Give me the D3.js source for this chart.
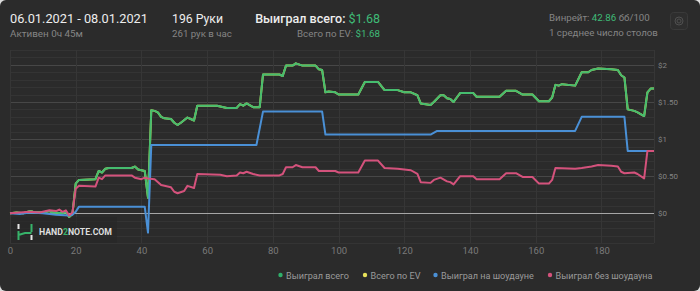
<!DOCTYPE html>
<html><head><meta charset="utf-8">
<script src="https://cdn.jsdelivr.net/npm/d3@7/dist/d3.min.js"></script>
<style>
body{margin:0;background:#dcdcdc;}
svg{display:block;font-family:Roboto,"Noto Sans",sans-serif;}
</style>
</head><body>
<svg id="chart" width="700" height="291"></svg>
<script>
// ---- data ----
const seriesNames = ["Выиграл всего", "Всего по EV", "Выиграл на шоудауне", "Выиграл без шоудауна"];
const seriesColors = ["#45bd6f", "#e2d94c", "#4a90d6", "#d4527c"];
const legendDotColors = ["#2fae6a", "#e8e25a", "#4a90d6", "#d4527c"];

// [hand, dollars]
const totalWon = [[0,0],[2,0.01],[4,0],[6,0.03],[7,0.02],[10,0.01],[12,0.03],[13,0.01],[16,0],[17,0.02],[18,-0.05],[19,-0.01],[20,0.40],[21,0.45],[26,0.46],[27,0.57],[28,0.55],[29,0.60],[30,0.61],[37,0.61],[38,0.63],[39,0.59],[41,0.57],[42,0.21],[43,1.39],[44,1.38],[45,1.36],[46,1.30],[47,1.28],[49,1.27],[50,1.22],[51,1.19],[52,1.22],[54,1.29],[55,1.27],[56,1.25],[57,1.45],[63,1.45],[66,1.42],[69,1.42],[70,1.47],[71,1.45],[72,1.48],[74,1.43],[76,1.43],[77,1.87],[82,1.87],[83,1.85],[84,1.99],[86,1.99],[87,2.02],[89,1.99],[93,1.99],[94,1.94],[95,1.93],[96,1.63],[97,1.64],[99,1.63],[100,1.60],[106,1.60],[108,1.77],[112,1.77],[114,1.66],[118,1.66],[120,1.63],[122,1.63],[124,1.59],[125,1.48],[128,1.46],[129,1.50],[131,1.59],[132,1.59],[133,1.55],[134,1.54],[135,1.50],[136,1.56],[137,1.62],[141,1.62],[142,1.57],[149,1.57],[151,1.65],[154,1.65],[156,1.60],[159,1.60],[161,1.51],[164,1.51],[165,1.56],[166,1.73],[167,1.72],[168,1.74],[172,1.72],[174,1.90],[176,1.90],[177,1.93],[179,1.95],[183,1.94],[185,1.93],[186,1.86],[187,1.83],[188,1.40],[190,1.38],[191,1.36],[193,1.31],[194,1.63],[195,1.68],[196,1.68]];
const evWon = totalWon; // all-in EV line coincides with the total line
const showdownWon = [[0,0],[3,-0.01],[6,0.01],[10,0],[14,-0.02],[18,-0.03],[19,-0.02],[20,0.02],[21,0.09],[41,0.09],[42,-0.26],[43,0.92],[75,0.92],[77,1.37],[95,1.37],[96,1.06],[128,1.06],[130,1.11],[172,1.11],[174,1.30],[187,1.30],[188,0.84],[196,0.84]];
const nonShowdownWon = [[0,0],[3,0.01],[6,0.02],[9,0.01],[12,0.04],[14,0.03],[15,0.05],[16,0.02],[17,0.04],[18,-0.03],[19,0.01],[20,0.33],[21,0.37],[26,0.36],[27,0.48],[28,0.46],[29,0.51],[37,0.51],[38,0.48],[40,0.46],[41,0.48],[42,0.47],[44,0.46],[46,0.38],[49,0.35],[50,0.29],[51,0.27],[53,0.30],[54,0.37],[56,0.34],[57,0.53],[64,0.52],[66,0.50],[69,0.51],[70,0.55],[71,0.54],[72,0.56],[74,0.53],[76,0.51],[82,0.51],[83,0.53],[84,0.62],[86,0.62],[87,0.65],[89,0.62],[93,0.62],[94,0.57],[99,0.57],[100,0.55],[106,0.55],[108,0.71],[112,0.71],[114,0.61],[118,0.60],[122,0.58],[124,0.53],[125,0.42],[128,0.41],[129,0.45],[131,0.48],[133,0.43],[134,0.42],[135,0.39],[137,0.50],[141,0.50],[142,0.46],[149,0.46],[151,0.54],[154,0.54],[156,0.49],[159,0.49],[161,0.40],[164,0.40],[165,0.45],[166,0.61],[172,0.60],[174,0.61],[177,0.63],[179,0.65],[183,0.64],[185,0.63],[186,0.56],[187,0.54],[190,0.55],[191,0.53],[193,0.47],[194,0.84],[196,0.84]];

const xTicks = [0,20,40,60,80,100,120,140,160,180];
const yTickValues = [0, 0.5, 1, 1.5, 2];
const yTickLabels = ["$0", "$0.50", "$1", "$1.50", "$2"];

// ---- helpers ----
function fit(sel, w) {
  const cur = sel.node().getComputedTextLength();
  const fs = parseFloat(sel.attr("font-size"));
  if (cur > 0) sel.attr("font-size", (fs * w / cur).toFixed(2));
  return sel;
}

// ---- drawing ----
const W = 700, H = 291;
const svg = d3.select("#chart");
svg.append("rect").attr("width", W).attr("height", H).attr("rx", 6).attr("fill", "#2b2b2b");

const x = d3.scaleLinear().domain([0, 196]).range([10, 654]);
const y = d3.scaleLinear().domain([-0.4, 2.2]).range([243, 50]);

// grid
const g = svg.append("g");
const minor = d3.range(-4, 23).map(i => i / 10);
g.selectAll("line.minor").data(minor).join("line")
  .attr("x1", x(0)).attr("x2", x(196))
  .attr("y1", d => Math.round(y(d)) + 0.5).attr("y2", d => Math.round(y(d)) + 0.5)
  .attr("stroke", d => (Math.abs(Math.round(d * 2) - d * 2) < 1e-9 ? "#474747" : "#343434"));
g.selectAll("line.v").data(xTicks.concat([196])).join("line")
  .attr("y1", y(-0.4)).attr("y2", y(2.2))
  .attr("x1", d => Math.round(x(d)) + 0.5).attr("x2", d => Math.round(x(d)) + 0.5)
  .attr("stroke", "#363636");
g.append("line").attr("x1", x(0)).attr("x2", x(196))
  .attr("y1", Math.round(y(0)) + 0.5).attr("y2", Math.round(y(0)) + 0.5)
  .attr("stroke", "#a6a6a6").attr("stroke-width", 1.2);

// axes labels
const xAxis = d3.axisBottom(x).tickValues(xTicks).tickSize(0).tickPadding(0);
const xa = svg.append("g").attr("transform", "translate(0,247.5)").call(xAxis);
xa.select(".domain").remove();
xa.selectAll("text").attr("fill", "#7a7a7a").attr("font-size", 9.5).attr("font-family", "Roboto").attr("dy", "0.71em");

const yAxis = d3.axisRight(y).tickValues(yTickValues).tickFormat((d, i) => yTickLabels[i]).tickSize(0).tickPadding(0);
const ya = svg.append("g").attr("transform", "translate(658,0)").call(yAxis);
ya.select(".domain").remove();
ya.selectAll("text").attr("fill", "#858585").attr("font-size", 10).attr("font-family", "Roboto");
const y150 = ya.selectAll("text").filter((d, i) => i === 3);
const y150w = y150.node().getComputedTextLength();
ya.selectAll("text").attr("font-size", (10 * 20 / y150w).toFixed(2));

// watermark
const wm = svg.append("g");
wm.append("rect").attr("x", 11).attr("y", 217).attr("width", 106).attr("height", 26).attr("fill", "#262626").attr("opacity", 0.6);
wm.append("path").attr("d", "M18.5,224 V229").attr("stroke", "#e6e6e6").attr("stroke-width", 2);
wm.append("path").attr("d", "M18.5,231 V240 M18.5,235 L25,233 L31.5,233 M31.5,224 V232").attr("stroke", "#37b36a").attr("stroke-width", 2).attr("fill", "none");
wm.append("path").attr("d", "M31.5,235 V240").attr("stroke", "#e6e6e6").attr("stroke-width", 2);
const wt = wm.append("text").attr("x", 39).attr("y", 235).attr("font-size", 9.5).attr("font-weight", "bold").attr("fill", "#dedede").attr("font-family", "Roboto");
wt.append("tspan").text("HAND");
wt.append("tspan").attr("fill", "#37b36a").text("2");
wt.append("tspan").text("NOTE.COM");
fit(wt, 73);

// lines
const line = d3.line().x(d => x(d[0])).y(d => y(d[1]));
const allSeries = [evWon, totalWon, showdownWon, nonShowdownWon];
const colorIdx = [1, 0, 2, 3];
const lg = svg.append("g").attr("fill", "none").attr("stroke-width", 2).attr("stroke-linejoin", "round");
allSeries.forEach((s, i) => {
  lg.append("path").attr("d", line(s)).attr("stroke", seriesColors[colorIdx[i]]);
});

// legend
const legendX = [280.5, 365, 435.5, 550];
const legendW = [63, 50, 93, 97];
const leg = svg.append("g");
seriesNames.forEach((n, i) => {
  leg.append("circle").attr("cx", legendX[i]).attr("cy", 275).attr("r", 2.2).attr("fill", legendDotColors[i]);
  const t = leg.append("text").attr("x", legendX[i] + 5.5).attr("y", 278.5).attr("font-size", 10).attr("fill", "#9a9a9a").text(n);
  fit(t, legendW[i]);
});

// header
const hd = svg.append("g").attr("font-family", "Roboto");
fit(hd.append("text").attr("x", 10).attr("y", 23).attr("font-size", 14).attr("fill", "#ededed").text("06.01.2021 - 08.01.2021"), 138);
fit(hd.append("text").attr("x", 10).attr("y", 37).attr("font-size", 11).attr("fill", "#858585").text("Активен 0ч 45м"), 73);
fit(hd.append("text").attr("x", 172).attr("y", 23).attr("font-size", 14).attr("fill", "#ededed").text("196 Руки"), 51);
fit(hd.append("text").attr("x", 172).attr("y", 37).attr("font-size", 11).attr("fill", "#858585").text("261 рук в час"), 60);
const t1 = hd.append("text").attr("x", 380).attr("y", 23).attr("text-anchor", "end").attr("font-size", 14).attr("fill", "#ededed");
t1.append("tspan").attr("font-weight", 500).text("Выиграл всего: ");
t1.append("tspan").attr("fill", "#3fbb77").text("$1.68");
fit(t1, 125);
const t2 = hd.append("text").attr("x", 380).attr("y", 37).attr("text-anchor", "end").attr("font-size", 11).attr("fill", "#858585");
t2.append("tspan").text("Всего по EV: ");
t2.append("tspan").attr("fill", "#3fbb77").text("$1.68");
fit(t2, 83);
const t4 = fit(hd.append("text").attr("x", 549).attr("y", 36).attr("font-size", 11).attr("fill", "#858585").text("1 среднее число столов"), 109);
const t3 = hd.append("text").attr("x", 549).attr("y", 21).attr("font-size", t4.attr("font-size")).attr("fill", "#858585");
t3.append("tspan").text("Винрейт: ");
t3.append("tspan").attr("fill", "#3fbb77").text("42.86");
t3.append("tspan").text(" бб/100");
// settings button
hd.append("rect").attr("x", 670.5).attr("y", 12.5).attr("width", 17).attr("height", 17).attr("rx", 3).attr("fill", "#2e2e2e").attr("stroke", "#3a3a3a");
const gear = hd.append("g").attr("transform", "translate(679,21)").attr("fill", "none").attr("stroke", "#505050").attr("stroke-width", 1);
gear.append("circle").attr("r", 2);
gear.append("circle").attr("r", 4);
</script>
</body></html>
